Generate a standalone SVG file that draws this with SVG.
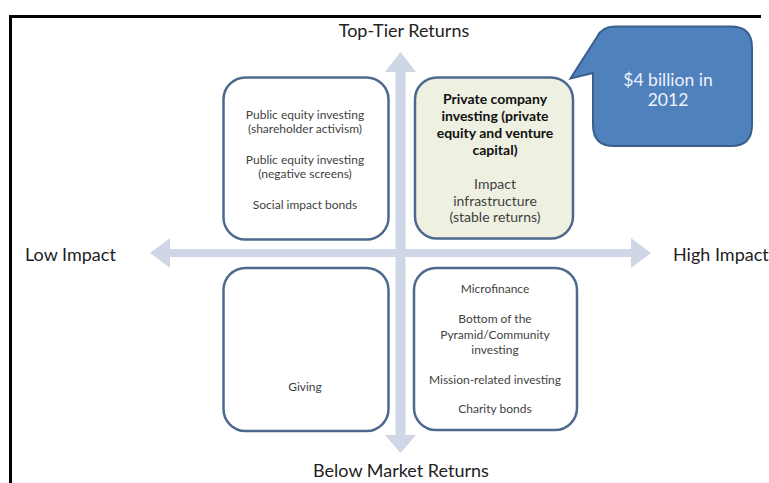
<svg xmlns="http://www.w3.org/2000/svg" width="769" height="483" viewBox="0 0 769 483">
<style>
.box{fill:#ffffff;stroke:#4d6a8e;stroke-width:2.5}
.hl{fill:#eef0e2}
.arr{fill:#cfd6e5}
text{font-family:Lato,"Open Sans","Liberation Sans",sans-serif;fill:#3f3f3f;text-anchor:middle}
.s{font-size:12px}
.m{font-size:14px}
.b{font-weight:bold;fill:#111}
.ax{font-size:18px;fill:#222}
.call{font-size:17.5px;fill:#eef2fa}
</style>
<rect x="0" y="0" width="769" height="483" fill="#ffffff"/>
<path d="M10.5 483 V16.5 H761" fill="none" stroke="#000" stroke-width="3"/>
<g id="connectors">
<path class="arr" d="M395.5 72 H385 L400.5 52 L416 72 H405.5 V435 H416 L400.5 453 L385 435 H395.5 Z"/>
<path class="arr" d="M170 249 V238 L150 253 L170 268 V257 H631 V268 L651 253 L631 238 V249 Z"/>
</g>
<g id="labels">
<text class="ax" x="404" y="37">Top-Tier Returns</text>
<text class="ax" x="25" y="261" style="text-anchor:start">Low Impact</text>
<text class="ax" x="673" y="261" style="text-anchor:start">High Impact</text>
<text class="ax" x="401" y="477">Below Market Returns</text>
</g>
<g id="node-tl">
<rect class="box" x="223.5" y="77.5" width="165" height="162" rx="22"/>
<text class="s" x="305" y="119">Public equity investing</text>
<text class="s" x="305" y="133">(shareholder activism)</text>
<text class="s" x="305" y="164">Public equity investing</text>
<text class="s" x="305" y="178">(negative screens)</text>
<text class="s" x="305" y="209">Social impact bonds</text>
</g>
<g id="node-tr">
<rect class="box hl" x="415" y="77.5" width="158" height="161" rx="22"/>
<text class="m b" x="495" y="104">Private company</text>
<text class="m b" x="495" y="121">investing (private</text>
<text class="m b" x="495" y="138">equity and venture</text>
<text class="m b" x="495" y="155">capital)</text>
<text class="m" x="495" y="189">Impact</text>
<text class="m" x="495" y="206">infrastructure</text>
<text class="m" x="495" y="222">(stable returns)</text>
</g>
<g id="node-bl">
<rect class="box" x="223.5" y="268" width="165" height="163" rx="22"/>
<text class="s" x="305" y="391">Giving</text>
</g>
<g id="node-br">
<rect class="box" x="414" y="268" width="163" height="162" rx="22"/>
<text class="s" x="495" y="293">Microfinance</text>
<text class="s" x="495" y="323">Bottom of the</text>
<text class="s" x="495" y="339">Pyramid/Community</text>
<text class="s" x="495" y="354">investing</text>
<text class="s" x="495" y="384">Mission-related investing</text>
<text class="s" x="495" y="413">Charity bonds</text>
</g>
<g id="callout">
<path d="M615 26.5 H731 Q752 26.5 752 47.5 V125 Q752 146 731 146 H614 Q593 146 593 125 V73 L570.5 78.5 L597 37 Q602 26.5 615 26.5 Z" fill="#4f81bd" stroke="#3a5f8c" stroke-width="2"/>
<text class="call" x="668" y="86">$4 billion in</text>
<text class="call" x="668" y="106">2012</text>
</g>
</svg>
